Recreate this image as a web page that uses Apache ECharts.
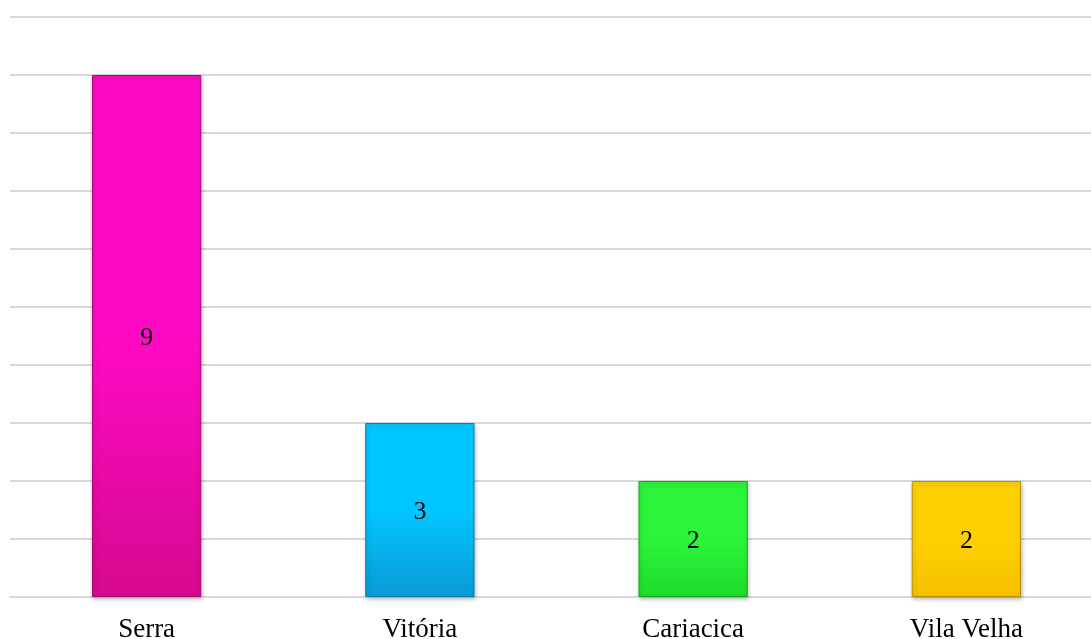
<!DOCTYPE html>
<html><head><meta charset="utf-8">
<script src="https://cdn.jsdelivr.net/npm/echarts@6/dist/echarts.min.js"></script>
<style>html,body{margin:0;padding:0;background:#fff}#c{width:1091px;height:639px}</style>
</head><body><div id="c"></div>
<script>
var categories = ['Serra', 'Vitória', 'Cariacica', 'Vila Velha'];
var values = [9, 3, 2, 2];
var topColors = ['#FF0AC4', '#00C6FF', '#2AF53A', '#FFD000'];
var bottomColors = ['#D4098E', '#0A9AD4', '#1FDA2A', '#F5C000'];
var borderColors = ['#A8087A', '#0880B0', '#18A820', '#B89000'];

var chart = echarts.init(document.getElementById('c'));
var data = values.map(function (v, i) {
  return {
    value: v,
    itemStyle: {
      color: new echarts.graphic.LinearGradient(0, 0, 0, 1, [
        { offset: 0, color: topColors[i] },
        { offset: 0.5, color: topColors[i] },
        { offset: 1, color: bottomColors[i] }
      ]),
      borderColor: borderColors[i],
      borderWidth: 1,
      shadowColor: 'rgba(0,0,0,0.25)',
      shadowBlur: 4,
      shadowOffsetX: 1,
      shadowOffsetY: 2
    }
  };
});
chart.setOption({
  animation: false,
  grid: { left: 10, width: 1093, top: 17, height: 580, containLabel: false, outerBoundsMode: 'none' },
  xAxis: {
    type: 'category',
    data: categories,
    axisTick: { show: false },
    axisLine: { lineStyle: { color: '#D9D9D9', width: 2 } },
    axisLabel: { color: '#000', fontFamily: 'Liberation Serif, Times New Roman, serif', fontSize: 27, margin: 19 }
  },
  yAxis: {
    type: 'value',
    min: 0, max: 10, interval: 1,
    axisLabel: { show: false },
    axisLine: { show: false },
    axisTick: { show: false },
    splitLine: { lineStyle: { color: '#D9D9D9', width: 2 } }
  },
  series: [{
    type: 'bar',
    data: data,
    barWidth: '40%',
    label: {
      show: true,
      position: 'inside',
      offset: [0, 2],
      color: '#000',
      fontFamily: 'Liberation Serif, Times New Roman, serif',
      fontSize: 26
    }
  }]
});
</script></body></html>
